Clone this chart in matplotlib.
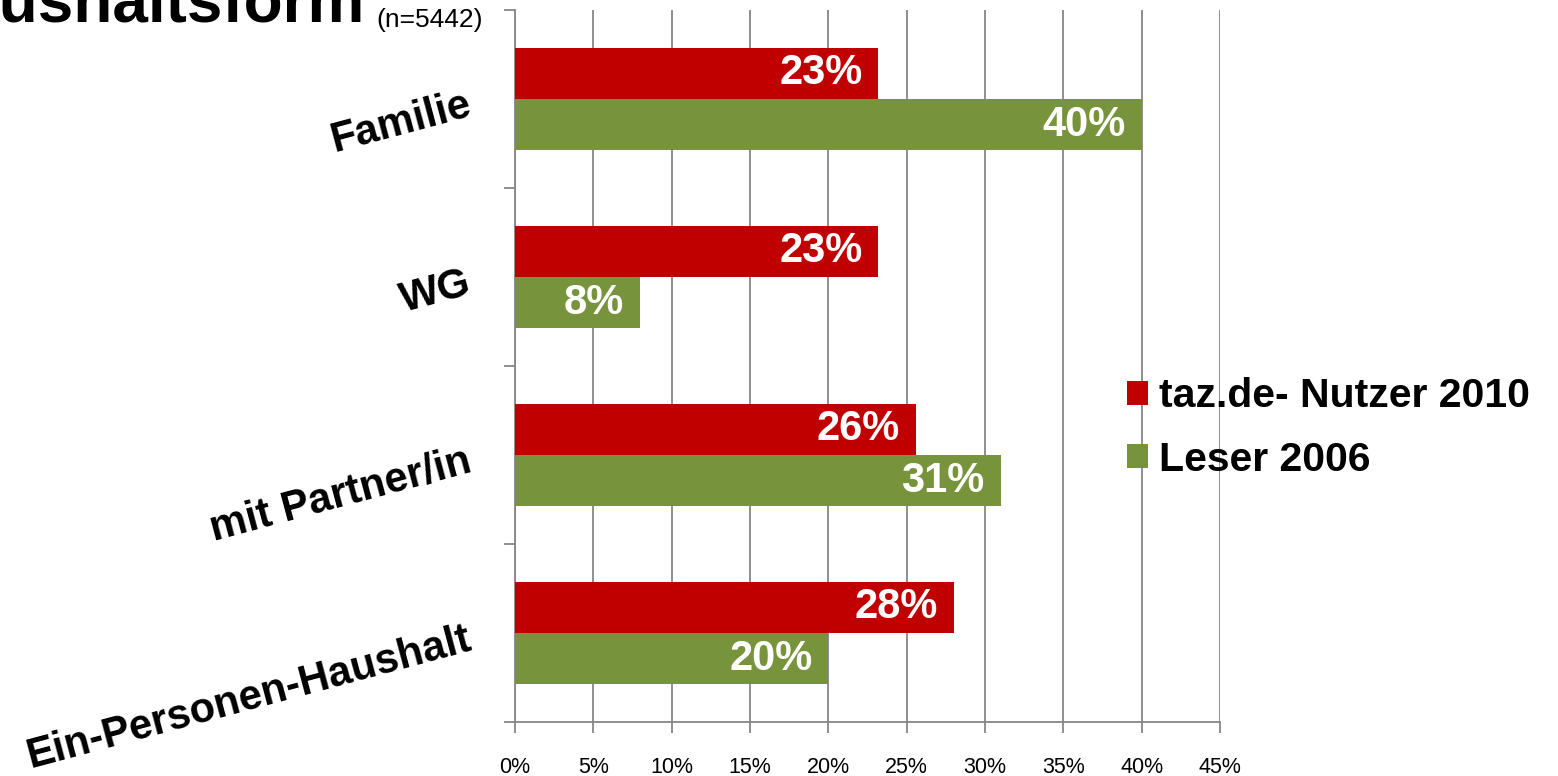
import numpy as np
import matplotlib
matplotlib.use("Agg")
import matplotlib.pyplot as plt
from matplotlib.ticker import MultipleLocator, FuncFormatter

# Data (percent)
categories = ['Ein-Personen-Haushalt', 'mit Partner/in', 'WG', 'Familie']
nutzer_2010 = [28.0, 25.6, 23.2, 23.2]
leser_2006 = [20.0, 31.0, 8.0, 40.0]
nutzer_labels = ['28%', '26%', '23%', '23%']
leser_labels = ['20%', '31%', '8%', '40%']
series_names = ['taz.de- Nutzer 2010', 'Leser 2006']

RED = '#C00000'
GREEN = '#77933C'
GRID = '#868686'

fig = plt.figure(figsize=(15.58, 7.76), dpi=100)
ax = fig.add_axes([515 / 1558, 1 - 722 / 776, (1220 - 515) / 1558, (722 - 10) / 776])

y = np.arange(len(categories))
h = 0.287
bars_red = ax.barh(y + h / 2, nutzer_2010, height=h, color=RED, label=series_names[0], zorder=3)
bars_green = ax.barh(y - h / 2, leser_2006, height=h, color=GREEN, label=series_names[1], zorder=3)

# value labels inside the bar ends
for bars, labels in [(bars_red, nutzer_labels), (bars_green, leser_labels)]:
    for rect, lab in zip(bars, labels):
        ax.annotate(lab, (rect.get_width(), rect.get_y() + rect.get_height() / 2),
                    xytext=(-16, 0), textcoords='offset pixels',
                    ha='right', va='center', color='white', fontsize=30,
                    fontweight='bold', family='Liberation Sans', zorder=4)

ax.set_xlim(0, 45)
ax.set_ylim(-0.5, len(categories) - 0.5)
ax.xaxis.set_major_locator(MultipleLocator(5))
ax.xaxis.set_major_formatter(FuncFormatter(lambda v, p: f'{v:.0f}%'))
ax.grid(axis='x', color=GRID, linewidth=1.3, zorder=0)

# slanted category labels, nudged slightly down as in the source
ax.set_yticks(y - 0.03)
ax.set_yticklabels(categories, rotation=15, ha='right', va='center',
                   rotation_mode='anchor', fontsize=30, fontweight='bold',
                   family='Liberation Sans')
ax.set_yticks(np.arange(-0.5, len(categories), 1.0), minor=True)
ax.tick_params(axis='y', which='major', length=0, pad=32)
ax.tick_params(axis='y', which='minor', length=8, color=GRID, width=1.3)
ax.tick_params(axis='x', length=8, color=GRID, width=1.3, pad=17, labelsize=15.5)
for lbl in ax.get_xticklabels():
    lbl.set_family('Liberation Sans')

for side in ['top', 'right']:
    ax.spines[side].set_visible(False)
for side in ['left', 'bottom']:
    ax.spines[side].set_color(GRID)
    ax.spines[side].set_linewidth(1.3)

leg = fig.legend(handles=[bars_red, bars_green], labels=series_names,
                 loc='center left', bbox_to_anchor=(1127 / 1558, 1 - 428 / 776),
                 frameon=False, borderpad=0, borderaxespad=0,
                 prop={'family': 'Liberation Sans', 'weight': 'bold', 'size': 29.5},
                 handlelength=0.52, handleheight=0.52, handletextpad=0.25,
                 labelspacing=0.62)

# title, cut at the left edge like the source slide
fig.text(365 / 1558, 1 - 22 / 776, 'Haushaltsform', ha='right', va='baseline',
         fontsize=46, fontweight='bold', family='Liberation Sans')
fig.text(376 / 1558, 1 - 27 / 776, '(n=5442)', ha='left', va='baseline',
         fontsize=19, family='Liberation Sans')

fig.savefig('out.png', dpi=100)
